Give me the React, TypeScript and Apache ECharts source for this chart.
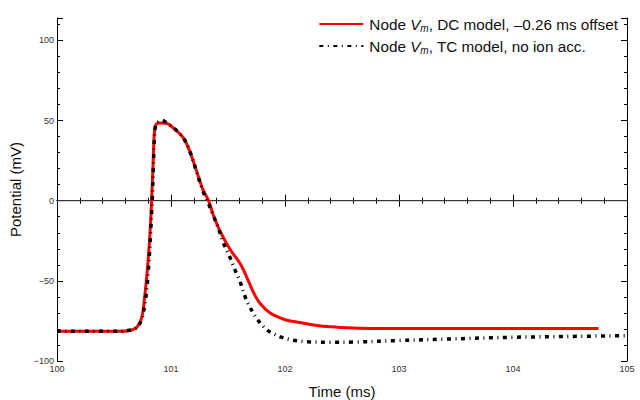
import React, { useEffect, useRef } from "react";
import * as echarts from "echarts";

// DC model (red), time in ms and potential in mV
const dcT = [100, 100.55, 100.64, 100.7, 100.743, 100.766, 100.795, 100.816, 100.83, 100.842, 100.854, 100.868, 100.9, 100.96, 101.02, 101.11, 101.17, 101.225, 101.28, 101.33, 101.37, 101.43, 101.52, 101.605, 101.66, 101.72, 101.78, 101.87, 102.01, 102.13, 102.25, 102.4, 102.6, 102.85, 103.2, 104, 104.75];
const dcV = [-81.5, -81.5, -81, -79, -72.9, -61.9, -41, -20.2, 0.6, 21.4, 42.3, 47.5, 48.5, 48.3, 45.4, 39, 29.8, 18.3, 6.9, 0, -8.8, -19, -30.6, -39, -47, -56.7, -64, -70, -74.4, -76, -77.5, -78.7, -79.4, -79.7, -79.8, -79.8, -79.8];

// TC model, no ion accumulation (black dash-dot)
const tcT = [100, 100.55, 100.62, 100.68, 100.72, 100.75, 100.78, 100.8, 100.82, 100.835, 100.845, 100.855, 100.87, 100.92, 100.97, 101.03, 101.11, 101.17, 101.225, 101.28, 101.33, 101.37, 101.42, 101.46, 101.52, 101.56, 101.605, 101.65, 101.69, 101.74, 101.78, 101.84, 101.9, 101.96, 102.07, 102.2, 102.4, 102.6, 102.98, 103.42, 104.0, 104.59, 105];
const tcV = [-81.5, -81.5, -81, -80, -77.5, -72, -60, -45, -22, 0, 20, 40, 47.5, 50.2, 48, 45, 39, 30, 18, 6, -2, -9, -18, -26.5, -35.8, -43, -50.4, -59.8, -66, -72.3, -76, -80.6, -83, -85, -87, -88, -88.3, -88.2, -87.3, -86.3, -85.2, -84.6, -84.2];

// zero reference line
const zeroT = [100, 105];
const zeroV = [0, 0];

const xTicks = { min: 100, max: 105, major: 1, minorSplit: 5 };
const yTicks = { min: -100, max: 114, major: 50, minor: 10 };

const nameDC = "{n|Node }{i|V}{s|m}{n|, DC model, \u20130.26 ms offset}";
const nameTC = "{n|Node }{i|V}{s|m}{n|, TC model, no ion acc.}";

const FONT = "Liberation Sans, Arial, sans-serif";

export default function App() {
  const ref = useRef<HTMLDivElement>(null);
  useEffect(() => {
    if (!ref.current) return;
    const chart = echarts.init(ref.current, null, { renderer: "svg" });
    const zip = (t: number[], v: number[]) => t.map((x, i) => [x, v[i]]);
    const axisLineStyle = { color: "#000", width: 1 };
    const xBase = (pos: "bottom" | "top", labels: boolean) => ({
      type: "value",
      position: pos,
      min: xTicks.min,
      max: xTicks.max,
      interval: xTicks.major,
      axisLine: { show: true, lineStyle: axisLineStyle },
      axisTick: { show: true, inside: true, length: 6, lineStyle: { color: "#000" } },
      minorTick: { show: true, splitNumber: xTicks.minorSplit, length: 3, lineStyle: { color: "#000" } },
      splitLine: { show: false },
      minorSplitLine: { show: false },
      axisLabel: { show: labels, fontSize: 9, color: "#333", fontFamily: FONT, margin: 3 },
      ...(labels
        ? {
            name: "Time (ms)",
            nameLocation: "middle",
            nameGap: 23,
            nameTextStyle: { fontSize: 15, color: "#111", fontFamily: FONT },
          }
        : {}),
    });
    const yBase = (pos: "left" | "right", major: boolean, labels: boolean) => ({
      type: "value",
      position: pos,
      min: yTicks.min,
      max: yTicks.max,
      interval: major ? yTicks.major : yTicks.minor,
      axisLine: { show: major, lineStyle: axisLineStyle },
      axisTick: { show: true, inside: true, length: major ? 6 : 3, lineStyle: { color: "#000" } },
      splitLine: { show: false },
      axisLabel: {
        show: labels,
        fontSize: 9,
        color: "#333",
        fontFamily: FONT,
        margin: 3,
        formatter: (v: number) => (v % 50 === 0 ? (v < 0 ? "\u2212" + Math.abs(v) : String(v)) : ""),
      },
      ...(labels
        ? {
            name: "Potential (mV)",
            nameLocation: "middle",
            nameGap: 29,
            nameTextStyle: { fontSize: 15, color: "#111", fontFamily: FONT },
          }
        : {}),
    });
    const rich = {
      n: { fontSize: 15.3, fontFamily: FONT, color: "#111", lineHeight: 18, verticalAlign: "middle" },
      i: { fontStyle: "italic", fontSize: 15.3, fontFamily: FONT, color: "#111", lineHeight: 18, verticalAlign: "middle" },
      s: { fontStyle: "italic", fontSize: 10, fontFamily: FONT, color: "#111", lineHeight: 12, verticalAlign: "bottom", padding: [6, 0, 0, 0] },
    };
    chart.setOption({
      animation: false,
      backgroundColor: "#fff",
      grid: { left: 57, right: 13, top: 18, bottom: 39, containLabel: false, outerBoundsMode: "none" },
      legend: {
        data: [nameDC, nameTC],
        orient: "vertical",
        right: 22,
        top: 15,
        padding: 0,
        itemWidth: 44,
        itemHeight: 14,
        itemGap: 4,
        align: "left",
        formatter: (n: string) => n,
        itemStyle: { opacity: 0 },
        lineStyle: { width: 2 },
        textStyle: { fontSize: 15.3, fontFamily: FONT, color: "#111", lineHeight: 18, padding: [0, 0, 0, 1], rich },
      },
      xAxis: [xBase("bottom", true), xBase("top", false)],
      yAxis: [
        yBase("left", true, true),
        yBase("left", false, false),
        yBase("right", true, false),
        yBase("right", false, false),
      ],
      series: [
        {
          name: "zero",
          type: "line",
          data: zip(zeroT, zeroV),
          showSymbol: false,
          symbol: "none",
          silent: true,
          lineStyle: { color: "#444", width: 1 },
          z: 1,
        },
        {
          name: nameDC,
          type: "line",
          data: zip(dcT, dcV),
          symbol: "none",
          smooth: 0.35,
          lineStyle: { color: "#ff0000", width: 3 },
          itemStyle: { color: "#ff0000" },
          z: 2,
        },
        {
          name: nameTC,
          type: "line",
          data: zip(tcT, tcV),
          symbol: "none",
          smooth: 0.35,
          lineStyle: { color: "#000", width: 3.5, type: [4, 4.5, 1, 4.5], cap: "butt" },
          itemStyle: { color: "#000" },
          z: 3,
        },
      ],
    });
    return () => chart.dispose();
  }, []);
  return <div ref={ref} style={{ width: 640, height: 400, position: "absolute", left: 0, top: 0 }} />;
}
